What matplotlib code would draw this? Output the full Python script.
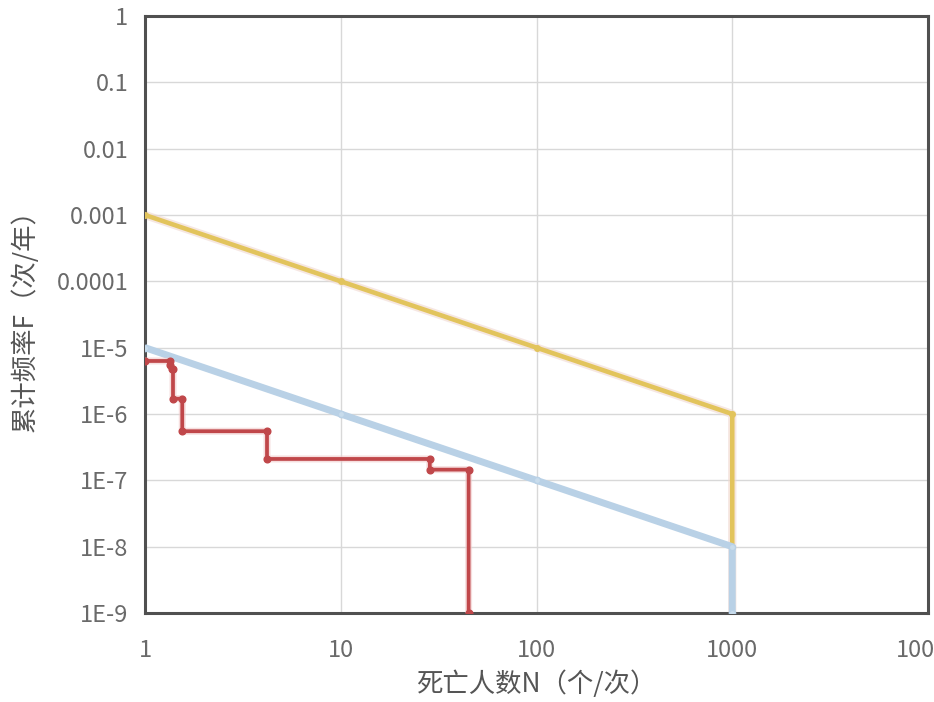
import matplotlib
matplotlib.use("Agg")
import matplotlib.pyplot as plt
from matplotlib.ticker import FixedLocator, FixedFormatter, NullLocator

plt.rcParams['font.family'] = ['Noto Sans CJK SC', 'DejaVu Sans']

# tick values / labels
x_ticks = [1, 10, 100, 1000, 10000]
x_labels = ['1', '10', '100', '1000', '10000']
y_ticks = [1e-9, 1e-8, 1e-7, 1e-6, 1e-5, 1e-4, 1e-3, 1e-2, 1e-1, 1]
y_labels = ['1E-9', '1E-8', '1E-7', '1E-6', '1E-5', '0.0001', '0.001', '0.01', '0.1', '1']

# upper limit line (yellow)
upper_N = [1, 10, 100, 1000, 1000]
upper_F = [1e-3, 1e-4, 1e-5, 1e-6, 1e-9]

# lower limit line (blue)
lower_N = [1, 10, 100, 1000, 1000]
lower_F = [1e-5, 1e-6, 1e-7, 1e-8, 1e-9]

# societal risk F-N curve (red), stair vertices
risk_N = [1, 1.34, 1.34, 1.37, 1.39, 1.39, 1.55, 1.55, 4.2, 4.2, 28.5, 28.5, 45, 45]
risk_F = [6.3e-6, 6.3e-6, 5.5e-6, 4.8e-6, 4.8e-6, 1.7e-6, 1.7e-6, 5.5e-7, 5.5e-7,
          2.1e-7, 2.1e-7, 1.45e-7, 1.45e-7, 1e-9]

fig = plt.figure(figsize=(9.34, 7.02), dpi=100)
ax = fig.add_axes([145/934, 1-613/702, (928-145)/934, (613-16)/702])
ax.set_xscale('log')
ax.set_yscale('log')
ax.set_xlim(1, 10000)
ax.set_ylim(1e-9, 1)

ax.grid(True, which='major', color='#d8d8d8', lw=1.0)
ax.set_axisbelow(True)

# faint shadow under yellow line
ax.plot(upper_N, upper_F, color='#f0d8d0', lw=6, alpha=0.6, solid_capstyle='butt', zorder=2)
ax.plot(upper_N, upper_F, color='#e2c45c', lw=3.3, marker='o', ms=4,
        solid_capstyle='butt', zorder=3)
ax.plot(lower_N, lower_F, color='#b9d1e6', lw=5, marker='o', ms=4.5,
        mfc='#c8dcec', mec='#b9d1e6', solid_capstyle='butt', zorder=4)
ax.plot(risk_N, risk_F, color='#f0c8c8', lw=5, alpha=0.6, zorder=4.5)
ax.plot(risk_N, risk_F, color='#c0474a', lw=2.7, marker='o', ms=4.8, zorder=5)

ax.xaxis.set_major_locator(FixedLocator(x_ticks))
ax.xaxis.set_major_formatter(FixedFormatter(x_labels))
ax.xaxis.set_minor_locator(NullLocator())
ax.yaxis.set_major_locator(FixedLocator(y_ticks))
ax.yaxis.set_major_formatter(FixedFormatter(y_labels))
ax.yaxis.set_minor_locator(NullLocator())

ax.tick_params(axis='both', length=0, labelsize=17, labelcolor='#6a6a6a')
ax.tick_params(axis='x', pad=19)
ax.tick_params(axis='y', pad=12)

for s in ax.spines.values():
    s.set_color('#505050')
    s.set_linewidth(2.2)

ax.set_xlabel('死亡人数N（个/次）', fontsize=19, color='#555555', labelpad=6)
ax.set_ylabel('累计频率F（次/年）', fontsize=19, color='#555555', labelpad=13)

fig.savefig('out.png', dpi=100)
